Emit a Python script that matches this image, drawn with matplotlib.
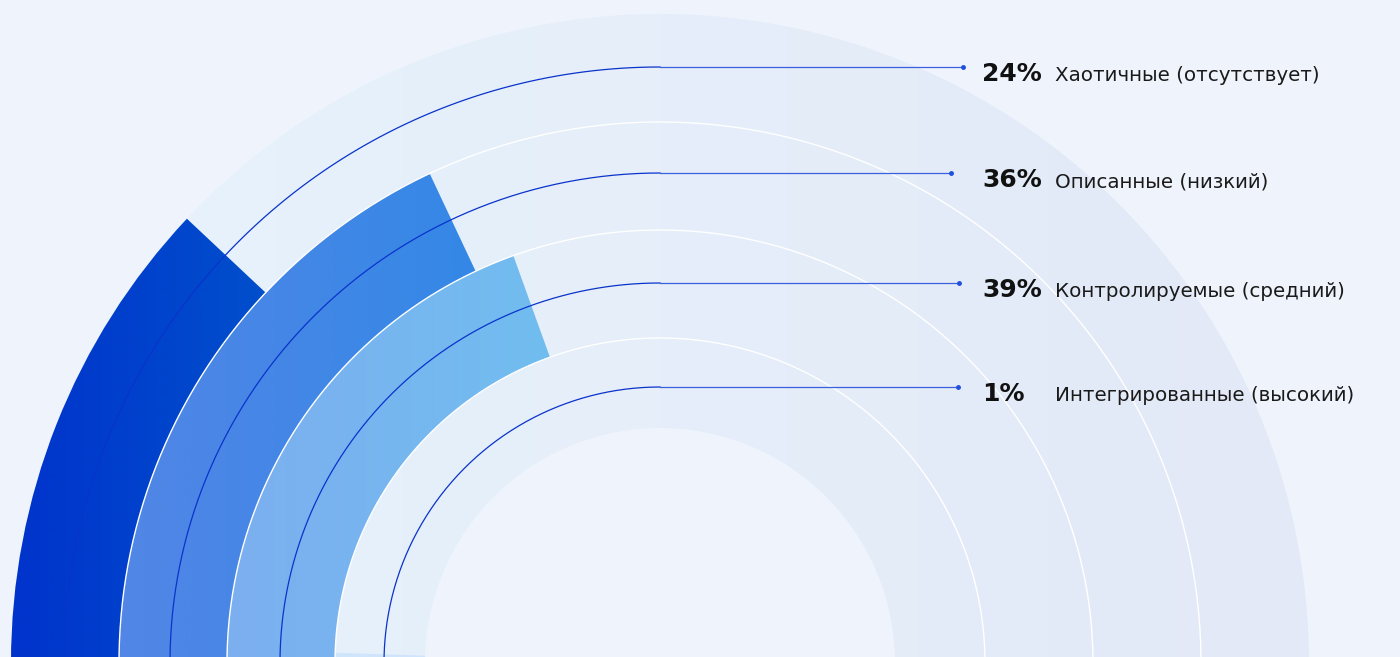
import numpy as np
import matplotlib.pyplot as plt
from matplotlib.patches import Wedge
from matplotlib.colors import LinearSegmentedColormap

# process maturity levels, share of companies (%)
levels = ['Хаотичные (отсутствует)', 'Описанные (низкий)',
          'Контролируемые (средний)', 'Интегрированные (высокий)']
shares = [24, 36, 39, 1]

W, H = 1400, 657
cx, cy = 660, -6
ring_outer = [649, 541, 433, 325]
ring_inner = [541, 433, 325, 235]
bar_colors = [('#0033cc', '#004fcc'), ('#5286e6', '#3488e6'),
              ('#7cafef', '#71bdf0'), ('#cfe5fb', '#cfe5fb')]
leader_r = [596, 490, 380, 276]
line_end = [963, 951, 959, 958]

fig = plt.figure(figsize=(14, 6.57), dpi=100)
fig.patch.set_facecolor('#eff4fc')
ax = fig.add_axes([0, 0, 1, 1])
ax.set_facecolor('#eff4fc')


def gradient_fill(patch, c0, c1, x0, x1, z):
    patch.set_facecolor('none')
    patch.set_edgecolor('none')
    ax.add_patch(patch)
    cmap = LinearSegmentedColormap.from_list('g', [c0, c1])
    img = ax.imshow(np.linspace(0, 1, 256)[None, :], cmap=cmap, aspect='auto',
                    extent=(x0, x1, -10, H), interpolation='bilinear', zorder=z)
    img.set_clip_path(patch)


# background track
track = Wedge((cx, cy), ring_outer[0], 0, 180, width=ring_outer[0] - ring_inner[-1])
gradient_fill(track, '#e7f3fc', '#e3e9f7', cx - ring_outer[0], cx + ring_outer[0], 1)

# bars, 100% = half circle, growing clockwise from the left
for ro, ri, s, (c0, c1) in zip(ring_outer, ring_inner, shares, bar_colors):
    a = 180 - s * 1.8
    w = Wedge((cx, cy), ro, a, 180, width=ro - ri)
    x1 = cx + ri * np.cos(np.radians(a))
    gradient_fill(w, c0, c1, cx - ro, x1, 2)

# thin white separators between rings
t = np.linspace(0, np.pi, 400)
for r in ring_inner[:-1]:
    ax.plot(cx + r * np.cos(t), cy + r * np.sin(t), color='white', lw=1.0, zorder=3)

# leader lines and labels
ta = np.linspace(np.pi / 2, np.pi, 200)
for r, xe, s, name in zip(leader_r, line_end, shares, levels):
    ax.plot(cx + r * np.cos(ta), cy + r * np.sin(ta), color='#0a33cc', lw=0.9, zorder=4)
    y = cy + r
    ax.plot([cx, xe], [y, y], color='#3a60e0', lw=0.9, zorder=4)
    ax.plot(xe, y, 'o', color='#1f4fdc', ms=2.5, zorder=5)
    ax.text(982, y - 14, f'{s}%', fontsize=18, fontweight='heavy',
            family='DejaVu Sans', color='#111111', va='baseline', ha='left', zorder=6)
    ax.text(1055, y - 14, name, fontsize=14.3, family='DejaVu Sans',
            color='#1a1a1a', va='baseline', ha='left', zorder=6)

ax.set_xlim(0, W)
ax.set_ylim(0, H)
ax.axis('off')

fig.savefig('out.png', dpi=100, facecolor=fig.get_facecolor())
